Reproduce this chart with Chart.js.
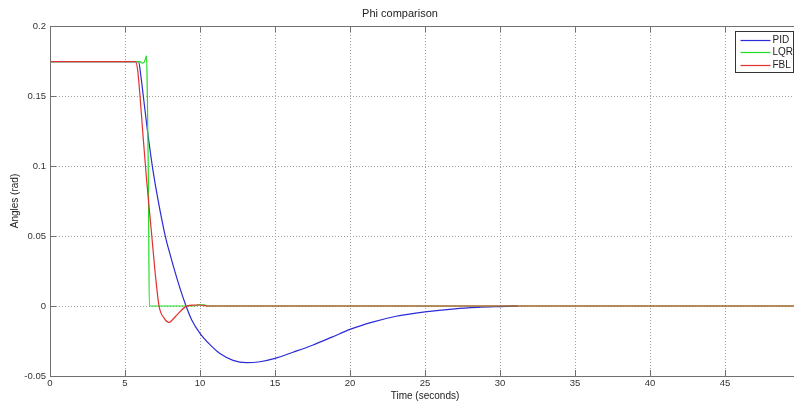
<!DOCTYPE html>
<html>
<head>
<meta charset="utf-8">
<title>Phi comparison</title>
<script src="https://cdn.jsdelivr.net/npm/chart.js@4.4.1/dist/chart.umd.min.js"></script>
<style>
  html, body { margin: 0; padding: 0; background: #fff; overflow: hidden; }
  #wrap { width: 794px; height: 403px; overflow: hidden; }
</style>
</head>
<body>
<div id="wrap"><canvas id="phiChart" width="830" height="403"></canvas></div>
<script>
// Axis ticks
const xTicks = [0, 5, 10, 15, 20, 25, 30, 35, 40, 45, 50];
const xTickLabels = ['0', '5', '10', '15', '20', '25', '30', '35', '40', '45', '50'];
const yTicks = [-0.05, 0, 0.05, 0.1, 0.15, 0.2];
const yTickLabels = ['-0.05', '0', '0.05', '0.1', '0.15', '0.2'];

// Series
const seriesNames = ['PID', 'LQR', 'FBL'];
const seriesColors = ['#2b2bd6', '#22dd22', '#e03030'];

const pidTime = [0, 5.9, 6.05, 6.22, 6.5, 6.85, 7.2, 7.67, 8.0, 8.33, 8.7, 9.07, 9.44, 10, 10.7, 11.33, 12.2, 13.1, 14, 15, 16.2, 17.5, 18.8, 20, 21.5, 23, 25, 27, 28.5, 30, 31.2];
const pidPhi = [0.1745, 0.1745, 0.165, 0.15, 0.125, 0.098, 0.076, 0.0507, 0.037, 0.0245, 0.0115, 0, -0.0098, -0.0195, -0.028, -0.034, -0.0388, -0.0405, -0.0398, -0.0374, -0.033, -0.028, -0.0222, -0.0167, -0.0115, -0.0075, -0.0042, -0.002, -0.001, -0.0004, 0];

const lqrTime = [0, 6.0, 6.15, 6.3, 6.44, 6.49, 6.56, 6.62, 9.6, 9.9, 10.3, 10.5, 50];
const lqrPhi = [0.1745, 0.1745, 0.1735, 0.1745, 0.1786, 0.15, 0.09, 0, 0, 0.0008, 0.0008, 0, 0];

const fblTime = [0, 5.7, 5.85, 6.0, 6.2, 6.44, 6.78, 7.0, 7.27, 7.62, 7.95, 8.1, 8.5, 9.0, 9.44, 10, 10.5, 50];
const fblPhi = [0.1745, 0.1745, 0.168, 0.15, 0.122, 0.09, 0.0507, 0.025, 0, -0.0088, -0.0117, -0.0105, -0.006, -0.0008, 0.0006, 0.0007, 0, 0];

function toPoints(ts, vs) {
    return ts.map((t, i) => ({ x: t, y: vs[i] }));
}

// MATLAB-like axes: dotted grid, box, inward ticks and a boxed legend
const matlabAxes = {
    id: 'matlabAxes',
    beforeDatasetsDraw(chart) {
        const { ctx, chartArea: a, scales: { x, y } } = chart;
        ctx.save();
        ctx.strokeStyle = '#a0a0a0';
        ctx.lineWidth = 1;
        ctx.setLineDash([1, 2]);
        ctx.beginPath();
        xTicks.forEach(v => {
            const px = Math.round(x.getPixelForValue(v)) + 0.5;
            if (px > a.left + 1 && px < a.right - 1) {
                ctx.moveTo(px, a.top);
                ctx.lineTo(px, a.bottom);
            }
        });
        yTicks.forEach(v => {
            const py = Math.round(y.getPixelForValue(v)) + 0.5;
            if (py > a.top + 1 && py < a.bottom - 1) {
                ctx.moveTo(a.left, py);
                ctx.lineTo(a.right, py);
            }
        });
        ctx.stroke();
        ctx.restore();
    },
    afterDatasetsDraw(chart) {
        const { ctx, chartArea: a, scales: { x, y } } = chart;
        const tl = 6;
        ctx.save();
        ctx.strokeStyle = '#707070';
        ctx.lineWidth = 1;
        ctx.setLineDash([]);
        ctx.strokeRect(Math.round(a.left) + 0.5, Math.round(a.top) + 0.5,
            Math.round(a.right - a.left), Math.round(a.bottom - a.top));
        ctx.beginPath();
        xTicks.forEach(v => {
            const px = Math.round(x.getPixelForValue(v)) + 0.5;
            ctx.moveTo(px, a.bottom); ctx.lineTo(px, a.bottom - tl);
            ctx.moveTo(px, a.top); ctx.lineTo(px, a.top + tl);
        });
        yTicks.forEach(v => {
            const py = Math.round(y.getPixelForValue(v)) + 0.5;
            ctx.moveTo(a.left, py); ctx.lineTo(a.left + tl, py);
            ctx.moveTo(a.right, py); ctx.lineTo(a.right - tl, py);
        });
        ctx.stroke();

        // legend box
        const bx = Math.round(a.right - 65) + 0.5;
        const by = Math.round(a.top + 5) + 0.5;
        const bw = 58, bh = 41;
        ctx.fillStyle = '#fff';
        ctx.fillRect(bx, by, bw, bh);
        ctx.strokeStyle = '#333';
        ctx.strokeRect(bx, by, bw, bh);
        ctx.font = '10px "Liberation Sans", Arial, sans-serif';
        ctx.textBaseline = 'middle';
        ctx.textAlign = 'left';
        seriesNames.forEach((name, i) => {
            const ry = Math.round(by + 8 + i * 12.5) + 0.5;
            ctx.strokeStyle = seriesColors[i];
            ctx.lineWidth = 1.2;
            ctx.beginPath();
            ctx.moveTo(bx + 5, ry);
            ctx.lineTo(bx + 35, ry);
            ctx.stroke();
            ctx.fillStyle = '#222';
            ctx.fillText(name, bx + 37, ry);
        });
        ctx.restore();
    }
};

const tickFont = { family: '"Liberation Sans", Arial, sans-serif', size: 9.5 };

new Chart(document.getElementById('phiChart').getContext('2d'), {
    type: 'line',
    data: {
        datasets: [
            { label: seriesNames[0], data: toPoints(pidTime, pidPhi), borderColor: seriesColors[0], order: 2 },
            { label: seriesNames[1], data: toPoints(lqrTime, lqrPhi), borderColor: seriesColors[1], order: 1 },
            { label: seriesNames[2], data: toPoints(fblTime, fblPhi), borderColor: seriesColors[2], order: 0 }
        ]
    },
    options: {
        responsive: false,
        animation: false,
        devicePixelRatio: 1,
        layout: { padding: { left: 0, right: 30, top: 0, bottom: 0 } },
        elements: {
            point: { radius: 0 },
            line: { borderWidth: 1.2, cubicInterpolationMode: 'monotone' }
        },
        plugins: {
            legend: { display: false },
            tooltip: { enabled: false },
            title: {
                display: true,
                text: 'Phi comparison',
                color: '#222',
                font: { family: '"Liberation Sans", Arial, sans-serif', size: 11, weight: 'normal' },
                padding: { top: 7, bottom: 5.8 }
            }
        },
        scales: {
            x: {
                type: 'linear',
                min: 0,
                max: 50,
                grid: { display: false, drawTicks: false },
                border: { display: false },
                afterBuildTicks: s => { s.ticks = xTicks.map(v => ({ value: v })); },
                afterFit: s => { s.height = 27; },
                ticks: {
                    padding: 2,
                    color: '#333',
                    font: tickFont,
                    maxRotation: 0,
                    callback: (v) => xTickLabels[xTicks.indexOf(v)]
                },
                title: {
                    display: true,
                    text: 'Time (seconds)',
                    color: '#222',
                    font: { family: '"Liberation Sans", Arial, sans-serif', size: 10 },
                    padding: { top: 0, bottom: 1 }
                }
            },
            y: {
                type: 'linear',
                min: -0.05,
                max: 0.2,
                grid: { display: false, drawTicks: false },
                border: { display: false },
                afterBuildTicks: s => { s.ticks = yTicks.map(v => ({ value: v })); },
                afterFit: s => { s.width = 50; },
                ticks: {
                    padding: 4,
                    color: '#333',
                    font: tickFont,
                    callback: (v) => yTickLabels[yTicks.indexOf(v)]
                },
                title: {
                    display: true,
                    text: 'Angles (rad)',
                    color: '#222',
                    font: { family: '"Liberation Sans", Arial, sans-serif', size: 10 },
                    padding: { top: 9, bottom: 0 }
                }
            }
        }
    },
    plugins: [matlabAxes]
});
</script>
</body>
</html>
